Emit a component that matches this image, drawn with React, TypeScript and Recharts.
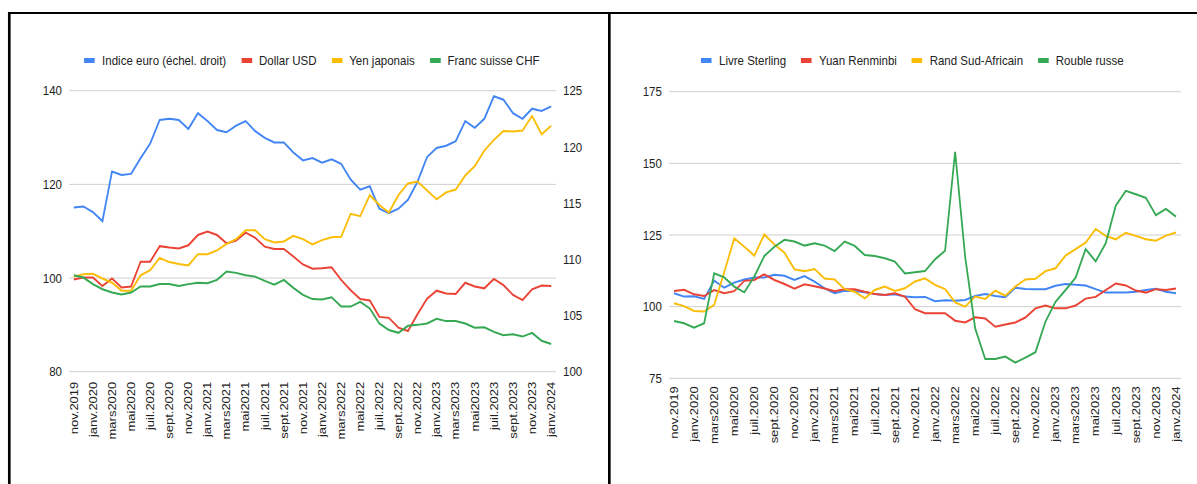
import React from 'react';
import { LineChart, Line, XAxis, YAxis, CartesianGrid } from 'recharts';

// Month categories, November 2019 to January 2024
const MONTHS = [
  'nov.2019', 'déc.2019',
  'janv.2020', 'févr.2020', 'mars2020', 'avr.2020', 'mai2020', 'juin2020', 'juil.2020', 'août2020', 'sept.2020', 'oct.2020', 'nov.2020', 'déc.2020',
  'janv.2021', 'févr.2021', 'mars2021', 'avr.2021', 'mai2021', 'juin2021', 'juil.2021', 'août2021', 'sept.2021', 'oct.2021', 'nov.2021', 'déc.2021',
  'janv.2022', 'févr.2022', 'mars2022', 'avr.2022', 'mai2022', 'juin2022', 'juil.2022', 'août2022', 'sept.2022', 'oct.2022', 'nov.2022', 'déc.2022',
  'janv.2023', 'févr.2023', 'mars2023', 'avr.2023', 'mai2023', 'juin2023', 'juil.2023', 'août2023', 'sept.2023', 'oct.2023', 'nov.2023', 'déc.2023',
  'janv.2024',
];

// Left panel series
const EURO_INDEX = [
  114.6, 114.7, 114.2, 113.4, 117.8, 117.5, 117.6, 119.0, 120.3, 122.4,
  122.5, 122.4, 121.6, 123.0, 122.3, 121.5, 121.3, 121.9, 122.3, 121.4,
  120.8, 120.4, 120.4, 119.5, 118.8, 119.0, 118.6, 118.9, 118.5, 117.1,
  116.2, 116.5, 114.5, 114.1, 114.5, 115.3, 116.9, 119.1, 119.9, 120.1,
  120.5, 122.3, 121.7, 122.5, 124.5, 124.2, 123.0, 122.5, 123.4, 123.2, 123.6,
];
const USD = [
  99.7, 100.1, 100.1, 98.3, 99.9, 98.0, 98.2, 103.5, 103.5, 106.8,
  106.5, 106.3, 107.0, 109.2, 109.9, 109.2, 107.4, 108.0, 109.7, 108.6,
  106.7, 106.2, 106.2, 104.6, 102.9, 102.0, 102.1, 102.3, 99.6, 97.4,
  95.5, 95.2, 91.7, 91.5, 89.4, 88.7, 92.3, 95.6, 97.3, 96.7,
  96.6, 99.0, 98.2, 97.8, 99.8, 98.5, 96.4, 95.3, 97.6, 98.4, 98.3,
];
const JPY = [
  100.3, 100.8, 100.9, 99.9, 99.0, 97.3, 97.3, 100.6, 101.7, 104.3,
  103.4, 103.0, 102.7, 105.1, 105.1, 105.9, 107.3, 108.3, 110.2, 110.2,
  108.3, 107.6, 107.8, 109.0, 108.3, 107.2, 108.1, 108.7, 108.8, 113.7,
  113.2, 117.7, 115.6, 114.0, 117.7, 120.2, 120.6, 118.7, 116.8, 118.3,
  118.9, 121.9, 123.9, 127.2, 129.5, 131.4, 131.3, 131.5, 134.6, 130.7, 132.5,
];
const CHF = [
  100.6, 100.1, 98.7, 97.6, 96.9, 96.5, 96.9, 98.2, 98.2, 98.7,
  98.7, 98.3, 98.7, 99.0, 98.9, 99.6, 101.4, 101.1, 100.6, 100.3,
  99.4, 98.6, 99.6, 97.9, 96.4, 95.5, 95.4, 95.9, 93.9, 93.9,
  94.9, 93.5, 90.3, 88.9, 88.3, 89.8, 90.0, 90.3, 91.3, 90.8,
  90.8, 90.3, 89.4, 89.5, 88.5, 87.8, 88.0, 87.5, 88.3, 86.6, 85.9,
];

// Right panel series
const GBP = [
  104.7, 103.5, 103.6, 102.7, 109.1, 106.6, 108.4, 109.5, 110.2, 110.2,
  111.1, 110.8, 109.3, 110.7, 108.7, 106.4, 104.7, 105.5, 105.5, 105.0,
  104.4, 104.1, 104.3, 103.5, 103.3, 103.4, 101.9, 102.2, 102.1, 102.3,
  103.7, 104.4, 103.7, 103.3, 106.6, 106.2, 106.1, 106.1, 107.3, 107.9,
  107.6, 107.4, 106.1, 104.9, 104.9, 104.9, 105.2, 105.8, 106.2, 105.2, 104.7,
];
const CNY = [
  105.5, 105.9, 104.3, 103.7, 105.8, 104.7, 105.4, 109.0, 109.3, 111.3,
  109.3, 107.9, 106.3, 107.8, 107.1, 106.3, 105.4, 106.1, 106.1, 105.2,
  104.4, 104.1, 104.7, 103.5, 99.1, 97.7, 97.7, 97.7, 95.1, 94.5,
  96.3, 95.9, 93.0, 93.8, 94.5, 96.2, 99.4, 100.4, 99.4, 99.4,
  100.4, 102.8, 103.4, 105.8, 108.1, 107.4, 105.6, 104.9, 106.1, 105.8, 106.3,
];
const ZAR = [
  101.2, 100.2, 98.5, 98.3, 100.6, 112.0, 123.8, 120.9, 117.8, 125.2,
  121.7, 118.8, 113.0, 112.4, 113.1, 109.8, 109.5, 106.1, 105.2, 102.9,
  105.8, 107.0, 105.5, 106.4, 108.8, 109.9, 107.6, 106.1, 101.5, 100.0,
  103.5, 102.7, 105.6, 103.8, 107.0, 109.5, 109.7, 112.4, 113.4, 117.8,
  120.1, 122.3, 127.1, 124.7, 123.5, 125.8, 124.7, 123.5, 123.0, 124.8, 125.9,
];
const RUB = [
  95.0, 94.2, 92.7, 94.2, 111.6, 110.2, 107.0, 105.0, 110.5, 117.7,
  120.9, 123.3, 122.7, 121.3, 122.1, 121.3, 119.4, 122.7, 121.2, 118.0,
  117.7, 116.9, 115.7, 111.6, 112.0, 112.4, 116.5, 119.5, 154.0, 117.4,
  92.4, 81.7, 81.7, 82.6, 80.5, 82.2, 84.1, 94.8, 101.7, 105.8,
  110.1, 120.1, 115.8, 122.1, 135.2, 140.4, 139.2, 138.0, 131.9, 134.1, 131.4,
];

const LEFT_TICKS = [80, 100, 120, 140];
const RIGHT_AXIS_TICKS = [100, 105, 110, 115, 120, 125];
const RIGHT_PANEL_TICKS = [75, 100, 125, 150, 175];

const BLUE = '#4285F4';
const RED = '#EA4335';
const YELLOW = '#FBBC04';
const GREEN = '#34A853';

const LEFT_SERIES = [
  { key: 'euro', name: 'Indice euro (échel. droit)', color: BLUE, axis: 'right' },
  { key: 'usd', name: 'Dollar USD', color: RED, axis: 'left' },
  { key: 'jpy', name: 'Yen japonais', color: YELLOW, axis: 'left' },
  { key: 'chf', name: 'Franc suisse CHF', color: GREEN, axis: 'left' },
];
const RIGHT_SERIES = [
  { key: 'gbp', name: 'Livre Sterling', color: BLUE },
  { key: 'cny', name: 'Yuan Renminbi', color: RED },
  { key: 'zar', name: 'Rand Sud-Africain', color: YELLOW },
  { key: 'rub', name: 'Rouble russe', color: GREEN },
];

const leftRows = MONTHS.map((m, i) => ({ m, euro: EURO_INDEX[i], usd: USD[i], jpy: JPY[i], chf: CHF[i] }));
const rightRows = MONTHS.map((m, i) => ({ m, gbp: GBP[i], cny: CNY[i], zar: ZAR[i], rub: RUB[i] }));

// The whole figure is drawn slightly narrow: layout below is in pre-squeeze units
const SQUEEZE = 0.885;
const FULL_W = 1197 / SQUEEZE;
const FONT = '"Liberation Sans", Arial, sans-serif';
const TEXT = '#222';

const MonthTick = (props: any) => {
  const { x, y, payload, shift } = props;
  return (
    <text
      transform={`translate(${x},${y + shift}) rotate(-90)`}
      textAnchor="end"
      dominantBaseline="central"
      fill={TEXT}
      fontSize={13}
      fontFamily={FONT}
    >
      {payload.value}
    </text>
  );
};

const LegendRow = ({ items, left, width }: { items: { name: string; color: string }[]; left: number; width: number }) => (
  <div
    style={{
      position: 'absolute', left, top: 52, width, height: 17, lineHeight: '17px',
      display: 'flex', justifyContent: 'center', alignItems: 'center',
      fontSize: 13, color: TEXT, whiteSpace: 'nowrap', fontFamily: FONT,
    }}
  >
    {items.map((it, idx) => (
      <div key={it.name} style={{ display: 'flex', alignItems: 'center', marginLeft: idx ? 17 : 0 }}>
        <span style={{ display: 'inline-block', width: 12, height: 5, background: it.color, marginRight: 8 }} />
        <span>{it.name}</span>
      </div>
    ))}
  </div>
);

export default function App() {
  return (
    <div style={{ position: 'fixed', left: 0, top: 0, width: 1197, height: 484, background: '#fff', overflow: 'hidden' }}>
      <div
        style={{
          position: 'absolute', left: 0, top: 0, width: FULL_W, height: 484,
          transform: `scaleX(${SQUEEZE})`, transformOrigin: '0 0', fontFamily: FONT,
        }}
      >
        {/* frame */}
        <div style={{ position: 'absolute', left: 9, top: 11.5, width: FULL_W - 9, height: 2.6, background: '#000' }} />
        <div style={{ position: 'absolute', left: 9, top: 11.5, width: 2.8, height: 480, background: '#000' }} />
        <div style={{ position: 'absolute', left: 687.2, top: 11.5, width: 3.2, height: 480, background: '#000' }} />

        <LegendRow items={LEFT_SERIES} left={0} width={705} />
        <LegendRow items={RIGHT_SERIES} left={731} width={600} />

        <div style={{ position: 'absolute', left: 0, top: 0 }}>
          <LineChart width={690} height={484} data={leftRows} margin={{ top: 90.7, right: 1.8, bottom: 52.3, left: 18 }}>
            <CartesianGrid yAxisId="left" horizontal vertical={false} stroke="#cccccc" strokeWidth={1} />
            <XAxis
              dataKey="m"
              interval={1}
              height={60}
              tickLine={false}
              axisLine={false}
              padding={{ left: 5.4, right: 5.4 }}
              tick={(p: any) => <MonthTick {...p} shift={2} />}
            />
            <YAxis
              yAxisId="left"
              orientation="left"
              width={60}
              domain={[80, 140]}
              ticks={LEFT_TICKS}
              tickLine={false}
              axisLine={false}
              tick={{ fill: TEXT, fontSize: 13 }}
            />
            <YAxis
              yAxisId="right"
              orientation="right"
              width={60}
              domain={[100, 125]}
              ticks={RIGHT_AXIS_TICKS}
              tickLine={false}
              axisLine={false}
              tick={{ fill: TEXT, fontSize: 13 }}
            />
            {LEFT_SERIES.map((s) => (
              <Line
                key={s.key}
                yAxisId={s.axis}
                type="linear"
                dataKey={s.key}
                name={s.name}
                stroke={s.color}
                strokeWidth={2}
                dot={false}
                isAnimationActive={false}
              />
            ))}
          </LineChart>
        </div>

        <div style={{ position: 'absolute', left: 690, top: 0 }}>
          <LineChart width={662.5} height={484} data={rightRows} margin={{ top: 91.7, right: 18, bottom: 45.7, left: 15.9 }}>
            <CartesianGrid horizontal vertical={false} stroke="#cccccc" strokeWidth={1} />
            <XAxis
              dataKey="m"
              interval={1}
              height={60}
              tickLine={false}
              axisLine={false}
              padding={{ left: 5.7, right: 5.7 }}
              tick={(p: any) => <MonthTick {...p} shift={0} />}
            />
            <YAxis
              width={50}
              domain={[75, 175]}
              ticks={RIGHT_PANEL_TICKS}
              tickLine={false}
              axisLine={false}
              tick={{ fill: TEXT, fontSize: 13 }}
            />
            {RIGHT_SERIES.map((s) => (
              <Line
                key={s.key}
                type="linear"
                dataKey={s.key}
                name={s.name}
                stroke={s.color}
                strokeWidth={2}
                dot={false}
                isAnimationActive={false}
              />
            ))}
          </LineChart>
        </div>
      </div>
    </div>
  );
}
